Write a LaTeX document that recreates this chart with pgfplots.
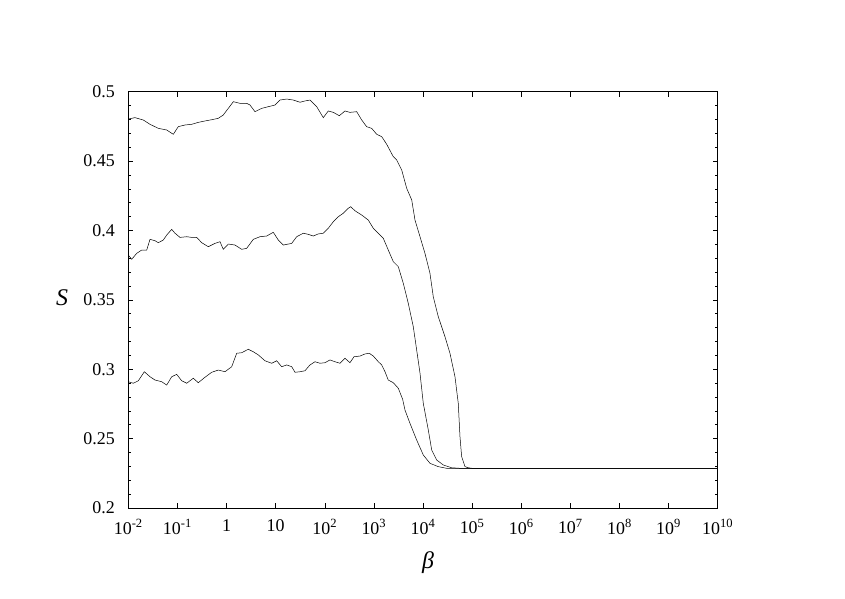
\documentclass[border=0pt]{standalone}
\usepackage{fontspec}
\setmainfont{Liberation Serif}
\usepackage{pgfplots}
\pgfplotsset{compat=1.18}

% x values are log10(beta)
\pgfplotstableread{
lx y
-2.000 0.4803
-1.864 0.4813
-1.695 0.4796
-1.558 0.4765
-1.389 0.4736
-1.218 0.4724
-1.084 0.4693
-0.982 0.4748
-0.846 0.4760
-0.709 0.4765
-0.575 0.4779
-0.439 0.4789
-0.302 0.4798
-0.168 0.4808
-0.066 0.4832
0.036 0.4880
0.138 0.4928
0.274 0.4916
0.410 0.4916
0.478 0.4904
0.579 0.4856
0.716 0.4880
0.850 0.4892
0.987 0.4904
1.088 0.4940
1.225 0.4947
1.359 0.4940
1.496 0.4924
1.597 0.4933
1.699 0.4940
1.836 0.4892
1.970 0.4813
2.072 0.4861
2.174 0.4851
2.296 0.4827
2.412 0.4861
2.513 0.4851
2.650 0.4856
2.752 0.4796
2.853 0.4748
2.955 0.4736
3.057 0.4693
3.159 0.4676
3.261 0.4621
3.395 0.4532
3.464 0.4508
3.566 0.4436
3.668 0.4304
3.770 0.4220
3.837 0.4075
3.939 0.3955
4.040 0.3835
4.142 0.3691
4.209 0.3523
4.311 0.3379
4.448 0.3234
4.549 0.3115
4.651 0.2946
4.718 0.2754
4.753 0.2514
4.787 0.2370
4.855 0.2298
4.922 0.2290
5.000 0.2286
10.000 0.2286
}\curveA

\pgfplotstableread{
lx y
-2.000 0.3823
-1.931 0.3792
-1.829 0.3835
-1.727 0.3859
-1.625 0.3859
-1.558 0.3936
-1.456 0.3926
-1.389 0.3912
-1.287 0.3931
-1.218 0.3967
-1.116 0.4008
-1.049 0.3980
-0.947 0.3950
-0.811 0.3955
-0.709 0.3950
-0.607 0.3950
-0.506 0.3912
-0.371 0.3883
-0.235 0.3907
-0.133 0.3919
-0.066 0.3864
0.036 0.3902
0.172 0.3895
0.309 0.3864
0.410 0.3871
0.545 0.3936
0.681 0.3955
0.818 0.3960
0.952 0.3987
1.054 0.3931
1.156 0.3895
1.327 0.3907
1.428 0.3955
1.563 0.3980
1.665 0.3972
1.766 0.3960
1.868 0.3975
1.970 0.3980
2.072 0.4016
2.174 0.4063
2.275 0.4099
2.377 0.4124
2.479 0.4160
2.528 0.4171
2.615 0.4142
2.752 0.4111
2.886 0.4075
2.988 0.4016
3.090 0.3980
3.191 0.3944
3.293 0.3859
3.395 0.3775
3.497 0.3739
3.599 0.3619
3.700 0.3475
3.802 0.3307
3.871 0.3139
3.939 0.2971
4.006 0.2754
4.108 0.2562
4.177 0.2418
4.279 0.2346
4.413 0.2310
4.584 0.2290
4.753 0.2286
10.000 0.2286
}\curveB

\pgfplotstableread{
lx y
-2.000 0.2910
-1.898 0.2899
-1.796 0.2917
-1.674 0.2982
-1.558 0.2946
-1.456 0.2922
-1.320 0.2910
-1.218 0.2886
-1.116 0.2946
-1.015 0.2963
-0.913 0.2917
-0.811 0.2899
-0.677 0.2935
-0.575 0.2903
-0.439 0.2942
-0.302 0.2978
-0.168 0.2994
-0.031 0.2982
0.105 0.3018
0.207 0.3115
0.309 0.3119
0.443 0.3144
0.545 0.3126
0.647 0.3103
0.783 0.3061
0.919 0.3043
1.021 0.3061
1.123 0.3018
1.225 0.3031
1.327 0.3018
1.394 0.2978
1.496 0.2982
1.597 0.2989
1.699 0.3031
1.801 0.3054
1.903 0.3043
2.004 0.3047
2.106 0.3067
2.208 0.3054
2.310 0.3043
2.412 0.3079
2.513 0.3047
2.595 0.3090
2.717 0.3095
2.819 0.3110
2.906 0.3115
2.988 0.3095
3.090 0.3054
3.159 0.3031
3.226 0.2982
3.293 0.2922
3.395 0.2903
3.497 0.2863
3.586 0.2783
3.633 0.2706
3.735 0.2610
3.871 0.2490
4.006 0.2382
4.142 0.2322
4.311 0.2298
4.482 0.2286
10.000 0.2286
}\curveC

\begin{document}
\begin{tikzpicture}
\useasboundingbox (0bp,0bp) rectangle (845bp,599bp);
\begin{axis}[
  at={(128.3bp,91bp)}, anchor=south west,
  scale only axis, width=589.4bp, height=416.3bp,
  xmin=-2, xmax=10, ymin=0.2, ymax=0.5,
  xtick={-2,...,10},
  xticklabels={10\textsuperscript{-2},10\textsuperscript{-1},1,10,10\textsuperscript{2},
    10\textsuperscript{3},10\textsuperscript{4},10\textsuperscript{5},10\textsuperscript{6},
    10\textsuperscript{7},10\textsuperscript{8},10\textsuperscript{9},10\textsuperscript{10}},
  ytick={0.2,0.25,...,0.5},
  yticklabels={0.2,0.25,0.3,0.35,0.4,0.45,0.5},
  minor y tick num=4,
  tick align=inside,
  major tick length=5bp, minor tick length=3bp,
  every tick/.style={black, line width=0.5pt},
  axis line style={line width=0.6pt, black},
  tick label style={font=\fontsize{18}{20}\selectfont},
  xticklabel style={yshift=-8bp},
  yticklabel style={xshift=-10bp},
  xlabel={\textit{β}}, ylabel={\textit{S}},
  label style={font=\fontsize{24}{28}\selectfont},
  xlabel style={at={(axis description cs:0.5085,-0.132)}, anchor=center},
  ylabel style={at={(axis description cs:-0.1125,0.504)}, anchor=center, rotate=-90},
]
\addplot[black, line width=0.5pt, no markers] table[x=lx, y=y] {\curveA};
\addplot[black, line width=0.5pt, no markers] table[x=lx, y=y] {\curveB};
\addplot[black, line width=0.5pt, no markers] table[x=lx, y=y] {\curveC};
\end{axis}
\end{tikzpicture}
\end{document}
